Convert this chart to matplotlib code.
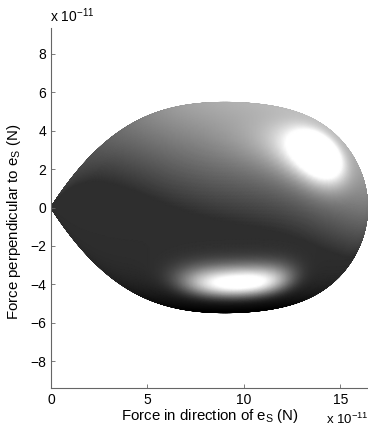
import numpy as np
import matplotlib.pyplot as plt

# outline of the shaded body (units of 1e-11 N)
profile_x = [0.72, 1.41, 2.28, 3.83, 5.13, 6.84, 9.1, 11.18, 12.9, 13.94, 15.3, 16.0, 16.2]
profile_r = [1.05, 1.95, 2.9, 4.15, 4.73, 5.3, 5.55, 5.38, 4.77, 4.43, 3.17, 1.95, 1.4]
x_end = 16.4

x_ticks = [0, 5, 10, 15]
y_ticks = [-8, -6, -4, -2, 0, 2, 4, 6, 8]
x_label = "Force in direction of e$_\\mathregular{S}$ (N)"
y_label = "Force perpendicular to e$_\\mathregular{S}$ (N)"

plt.rcParams["font.family"] = ["Liberation Sans", "DejaVu Sans"]
plt.rcParams["mathtext.default"] = "regular"


def body_surface():
    # r^2 = x^2 (L - x) P(x), with P fitted to the read outline
    px = np.array(profile_x)
    pr = np.array(profile_r)
    p_vals = pr**2 / (px**2 * (x_end - px))
    P = np.polyfit(px, p_vals, 4)
    g = np.polymul(np.polymul([1, 0, 0], [-1, x_end]), P)
    dg = np.polyder(g)

    u = np.linspace(0, np.pi, 360)
    xs = x_end * (1 - np.cos(u)) / 2
    r = np.sqrt(np.clip(np.polyval(g, xs), 0, None))
    half_dg = np.polyval(dg, xs) / 2

    phi = np.linspace(0, np.pi, 240)
    XX, PH = np.meshgrid(xs, phi)
    R = np.tile(r, (len(phi), 1))
    HD = np.tile(half_dg, (len(phi), 1))
    Y = R * np.cos(PH)

    n = np.stack([-HD, R * np.cos(PH), R * np.sin(PH)])
    n /= np.linalg.norm(n, axis=0) + 1e-12
    return XX, Y, n


def shade(n):
    def unit(v):
        v = np.array(v, float)
        return v / np.linalg.norm(v)

    light = unit([0.5, 0.86, 0.12])
    h1 = unit([0.514, 0.527, 0.677])
    h2 = unit([0.05, -0.72, 0.69])
    dot = lambda v: np.tensordot(v, n, axes=1)

    ambient = 0.18 * (1 - np.clip(-n[1], 0, 1) ** 6)
    diffuse = 0.58 * np.clip(dot(light), 0, None)
    spec = 1.0 * np.clip(dot(h1), 0, None) ** 22 + 1.0 * np.clip(dot(h2), 0, None) ** 45
    return np.clip(ambient + diffuse + spec, 0, 1)


fig = plt.figure(figsize=(3.68, 4.29), dpi=100)
ax = fig.add_axes([51 / 368, 41 / 429, 317 / 368, 360 / 429])

X, Y, normals = body_surface()
ax.pcolormesh(X, Y, shade(normals), cmap="gray", vmin=0, vmax=1, shading="gouraud")

ax.set_xlim(0, 16.43)
ax.set_ylim(-9.4, 9.35)
ax.set_xticks(x_ticks)
ax.set_yticks(y_ticks)
ax.tick_params(direction="in", length=3, width=0.6, colors="#666666",
               labelcolor="black", labelsize=10)
for side in ["top", "right"]:
    ax.spines[side].set_visible(False)
for side in ["left", "bottom"]:
    ax.spines[side].set_color("#666666")
    ax.spines[side].set_linewidth(0.8)

ax.set_xlabel(x_label, fontsize=10.8, labelpad=0)
ax.set_ylabel(y_label, fontsize=10.8)
ax.yaxis.set_label_coords(-0.088, 0.461)

fig.text(50 / 368, 1 - 22 / 429, "x 10$^{-11}$", fontsize=10, ha="left", va="baseline")
fig.text(326 / 368, 1 - 424 / 429, "x 10$^{-11}$", fontsize=9.5, ha="left", va="baseline")

fig.savefig("out.png", dpi=100)
